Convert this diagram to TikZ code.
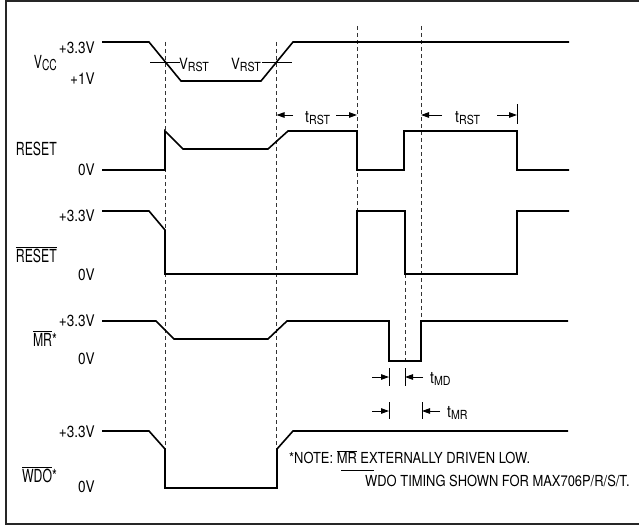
\documentclass[tikz,border=0pt]{standalone}
\usepackage{fontspec}
\setmainfont{TeX Gyre Heros}[FakeStretch=0.85]
\newfontfamily\namefont{TeX Gyre Heros}[FakeStretch=0.68]
\usetikzlibrary{arrows.meta,positioning,calc}
\newcommand\lowsub[2][12]{\raisebox{-2pt}{\fontsize{#1}{#1}\selectfont #2}}
\newcommand\barred[1]{$\overline{\mbox{#1}}$}

\begin{document}
\begin{tikzpicture}[x=1pt, y=-1pt,
    wave/.style={line width=1.6pt, line join=miter},
    guide/.style={line width=0.9pt, dash pattern=on 4pt off 3pt, black!80},
    frame/.style={line width=2.3pt, black!85},
    volt/.style={anchor=east, inner sep=0pt, font=\fontsize{16}{16}\selectfont},
    signame/.style={anchor=base east, inner sep=0pt, font=\namefont\fontsize{18}{18}\selectfont},
    vlabel/.style={inner sep=0pt, font=\fontsize{15.5}{16}\selectfont},
    tlabel/.style={anchor=base west, inner sep=0pt, font=\fontsize{16.5}{17}\selectfont},
    notetext/.style={anchor=base west, inner sep=0pt, font=\fontsize{15.2}{16}\selectfont},
    tarrow/.style={-{Triangle[length=8pt,width=5.5pt]}, line width=1pt},
    tickbar/.style={line width=1pt}
]
    \useasboundingbox (0,0) rectangle (639,527);
    \draw[frame] (639,1.3) -- (6,1.3) -- (6,524) -- (639,524);

    % dashed guides
    \draw[guide] (165,42) -- (165,449);
    \draw[guide] (276.5,42) -- (276.5,449);
    \draw[guide] (357,26) -- (357,211);
    \draw[guide] (421,26) -- (421,321);
    \draw[guide] (405,274) -- (405,361);

    % VCC
    \node[signame] (vcc) at (57,68) {V\lowsub[15]{CC}};
    \node[volt] (vcchi) at (95,47.5) {+3.3V};
    \node[volt] (vcclo) at (95,79) {+1V};
    \draw[wave] (102,42) -- (149,42) -- (181,81) -- (261,81) -- (293,42) -- (569,42);
    \draw[tickbar] (150,62) -- (180,62);
    \draw[tickbar] (262,62) -- (292,62);
    \node[vlabel, anchor=base west] (vrsta) at (179,69) {V\lowsub[12.5]{RST}};
    \node[vlabel, anchor=base east] (vrstb) at (261,69) {V\lowsub[12.5]{RST}};

    % RESET
    \node[signame] (rst) at (57,155.5) {RESET};
    \node[volt] (rstlo) at (95,170) {0V};
    \draw[wave] (102,170) -- (165,170) -- (165,131) -- (183,149) -- (268,149) -- (288,131)
        -- (357,131) -- (357,170) -- (404,170) -- (404,131) -- (517,131) -- (517,170) -- (569,170);

    % RESET bar
    \node[signame] (nrst) at (57,262) {\barred{RESET}};
    \node[volt] (nrsthi) at (95,216) {+3.3V};
    \node[volt] (nrstlo) at (95,275) {0V};
    \draw[wave] (102,211) -- (149,211) -- (165,230) -- (165,274) -- (357,274) -- (357,211)
        -- (405,211) -- (405,274) -- (517,274) -- (517,211) -- (569,211);

    % MR bar
    \node[signame] (mr) at (57,346) {\barred{MR}*};
    \node[volt] (mrhi) at (95,320.5) {+3.3V};
    \node[volt] (mrlo) at (95,359) {0V};
    \draw[wave] (102,321) -- (156,321) -- (174,339) -- (268,339) -- (287,321) -- (389,321)
        -- (389,361) -- (421,361) -- (421,321) -- (568,321);

    % WDO bar
    \node[signame] (wdo) at (57,482) {\barred{WDO}*};
    \node[volt] (wdohi) at (95,431.5) {+3.3V};
    \node[volt] (wdolo) at (95,487) {0V};
    \draw[wave] (102,431) -- (149,431) -- (165,449) -- (165,488) -- (277,488) -- (277,449)
        -- (293,431) -- (568,431);

    % timing marks
    \node[tlabel] (trsta) at (305,122) {t\lowsub[12.5]{RST}};
    \draw[tarrow] (293,115) -- (276.5,115);
    \draw[tarrow] (336,115) -- (357,115);
    \node[tlabel] (trstb) at (455,122) {t\lowsub[12.5]{RST}};
    \draw[tarrow] (442,115) -- (421,115);
    \draw[tarrow] (497,115) -- (517,115);
    \draw[tickbar] (517,104) -- (517,124);

    \node[tlabel] (tmd) at (430,383) {t\lowsub[12.5]{MD}};
    \draw[tarrow] (372,377) -- (389,377);
    \draw[tickbar] (389,368) -- (389,386);
    \draw[tarrow] (423,377) -- (405,377);
    \draw[tickbar] (405,368) -- (405,386);

    \node[tlabel] (tmr) at (447,417) {t\lowsub[12.5]{MR}};
    \draw[tarrow] (372,411) -- (389,411);
    \draw[tickbar] (389,402) -- (389,419);
    \draw[tarrow] (440,411) -- (422,411);
    \draw[tickbar] (422,402) -- (422,419);

    % note
    \node[notetext] (notea) at (289,463.5) {*NOTE: \barred{MR} EXTERNALLY DRIVEN LOW.};
    \node[notetext] (noteb) at (365,486.5) {WDO TIMING SHOWN FOR MAX706P/R/S/T.};
    \draw[tickbar] (341,470) -- (374,470);
\end{tikzpicture}
\end{document}
